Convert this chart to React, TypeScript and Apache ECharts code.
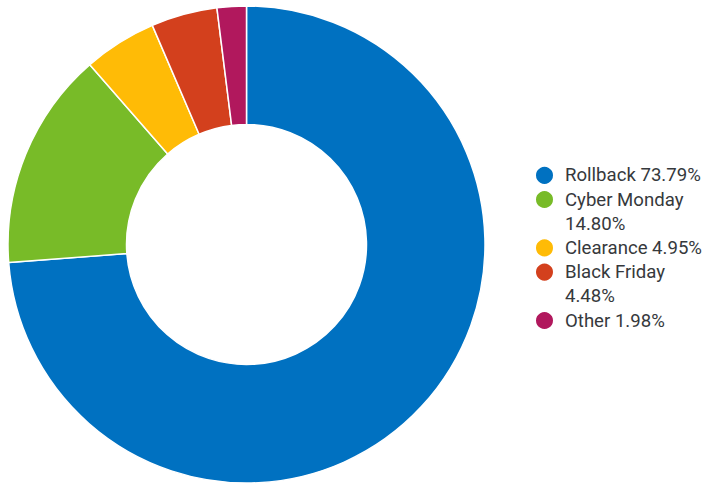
import React, { useEffect, useRef } from "react";
import * as echarts from "echarts";

const categories = ["Rollback", "Cyber Monday", "Clearance", "Black Friday", "Other"];
const shares = [73.79, 14.8, 4.95, 4.48, 1.98];
const colors = ["#0071c1", "#78bb28", "#ffbb06", "#d3401d", "#b1185d"];

const LINE_H = 24.2;
const FIRST_CENTER = 175.3;

function labelFor(name: string, v: number): string {
  const s = `${name} ${v.toFixed(2)}%`;
  if (s.length > 16) {
    const i = s.lastIndexOf(" ");
    return s.slice(0, i) + "\n" + s.slice(i + 1);
  }
  return s;
}

export default function App() {
  const ref = useRef<HTMLDivElement>(null);
  useEffect(() => {
    if (!ref.current) return;
    const chart = echarts.init(ref.current, undefined, { renderer: "svg" });
    const labels = categories.map((c, i) => labelFor(c, shares[i]));
    let center = FIRST_CENTER;
    const legends = labels.map((lab, i) => {
      const n = lab.split("\n").length;
      // leading blank lines keep the first text line level with the icon
      const shown = "\n".repeat(n - 1) + lab;
      const top = center - (2 * n - 1) * (LINE_H / 2);
      const item = {
        show: true,
        orient: "vertical",
        left: 534,
        top,
        padding: 0,
        itemWidth: 19,
        itemHeight: 19,
        icon: "circle",
        data: [categories[i]],
        formatter: () => shown,
        textStyle: {
          fontFamily: "Roboto",
          fontSize: 18.6,
          color: "#36393c",
          lineHeight: LINE_H,
          padding: [0, 0, 0, 6],
        },
      };
      center += n * LINE_H;
      return item;
    });
    chart.setOption({
      animation: false,
      color: colors,
      legend: legends,
      series: [
        {
          type: "pie",
          center: [246.5, 244.5],
          radius: [120, 238.5],
          startAngle: 90,
          clockwise: true,
          label: { show: false },
          labelLine: { show: false },
          itemStyle: { borderColor: "#ffffff", borderWidth: 1.5 },
          emphasis: { scale: false },
          data: categories.map((c, i) => ({ name: c, value: shares[i] })),
        },
      ],
    });
    return () => chart.dispose();
  }, []);
  return (
    <div
      ref={ref}
      style={{ position: "fixed", left: 0, top: 0, width: 707, height: 484, background: "#fff" }}
    />
  );
}
